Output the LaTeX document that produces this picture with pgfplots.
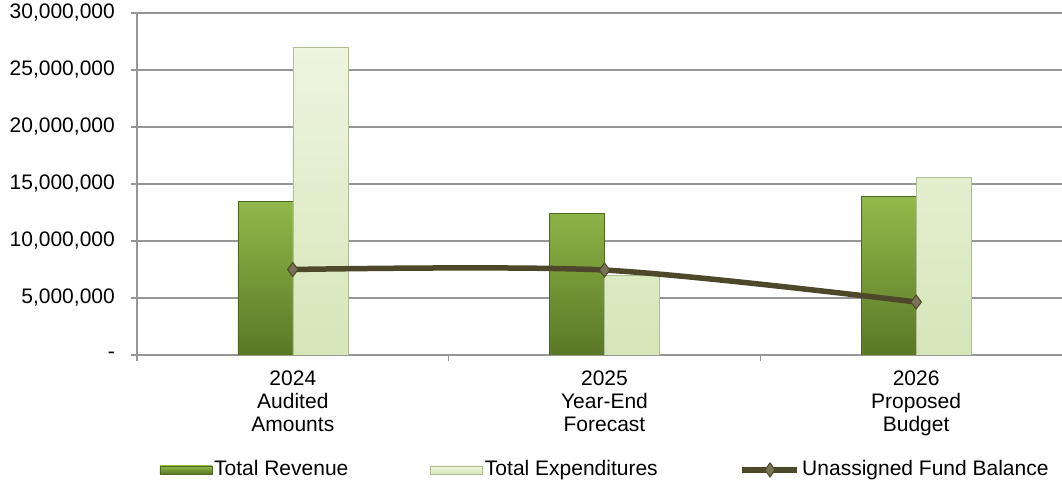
\documentclass[border=0pt]{standalone}
\usepackage{fontspec}
\setmainfont{Liberation Sans}
\usepackage{pgfplots}
\pgfplotsset{compat=1.18}
\definecolor{revtop}{RGB}{146,186,74}
\definecolor{revbot}{RGB}{90,120,38}
\definecolor{revedge}{RGB}{78,104,32}
\definecolor{exptop}{RGB}{238,245,224}
\definecolor{expbot}{RGB}{214,230,184}
\definecolor{expedge}{RGB}{176,190,148}
\definecolor{linec}{RGB}{78,72,42}
\definecolor{markc}{RGB}{122,114,86}
\definecolor{gridc}{RGB}{150,150,150}
\newcommand{\cf}{\fontsize{21}{23}\selectfont}
\begin{document}
\cf
\begin{tikzpicture}[x=1pt,y=1pt]
\useasboundingbox (0,0) rectangle (1062,489);
\begin{axis}[
  at={(137pt,134pt)}, anchor=south west,
  scale only axis, width=925pt, height=342pt,
  xmin=-0.5, xmax=2.468, ymin=0, ymax=30000000,
  axis lines*=left,
  axis line style={gridc, line width=1.2pt},
  tick align=outside,
  ytick={0,5000000,10000000,15000000,20000000,25000000,30000000},
  yticklabels={-,{5,000,000},{10,000,000},{15,000,000},{20,000,000},{25,000,000},{30,000,000}},
  scaled y ticks=false,
  ymajorgrids, grid style={gridc, line width=1.2pt},
  major tick length=6pt,
  ytick style={gridc, line width=1.2pt},
  xtick={0,1,2},
  xticklabels={{2024\\Audited\\Amounts},{2025\\Year-End\\Forecast},{2026\\Proposed\\Budget}},
  x tick style={draw=none},
  minor xtick={-0.5,0.5,1.5},
  minor x tick style={gridc, line width=1.2pt, draw=gridc},
  minor tick length=6pt,
  tick label style={font=\cf},
  yticklabel style={anchor=east, xshift=-9pt},
  xticklabel style={align=center, anchor=north, yshift=-3pt},
  legend style={at={(0.506,-0.336)}, anchor=center, draw=none, fill=none,
    legend columns=3, font=\cf,
    /tikz/every even column/.append style={column sep=80pt}},
  legend cell align=left,
]
\addplot[ybar, bar width=55pt, bar shift=-27.5pt, draw=revedge, line width=0.6pt,
  top color=revtop, bottom color=revbot,
  legend image code/.code={\draw[draw=revedge, line width=0.6pt, top color=revtop, bottom color=revbot] (0pt,-4pt) rectangle (52pt,4pt);}]
  coordinates {(0,13500000) (1,12400000) (2,13900000)};
\addlegendentry{Total Revenue}
\addplot[ybar, bar width=55pt, bar shift=27.5pt, draw=expedge, line width=0.6pt,
  top color=exptop, bottom color=expbot,
  legend image code/.code={\draw[draw=expedge, line width=0.6pt, top color=exptop, bottom color=expbot] (0pt,-4pt) rectangle (52pt,4pt);}]
  coordinates {(0,27000000) (1,7000000) (2,15600000)};
\addlegendentry{Total Expenditures}
\addplot[linec, line width=5.5pt, smooth, mark=diamond*, mark size=7pt,
  mark options={fill=markc, draw=linec, line width=1pt, solid},
  legend image code/.code={\draw[linec, line width=5.5pt] (0pt,0pt) -- (55pt,0pt);
    \draw[fill=markc, draw=linec, line width=1pt] (27.5pt,7pt) -- (32.5pt,0pt) -- (27.5pt,-7pt) -- (22.5pt,0pt) -- cycle;}]
  coordinates {(0,7500000) (1,7450000) (2,4650000)};
\addlegendentry{Unassigned Fund Balance}
\end{axis}
\end{tikzpicture}
\end{document}
